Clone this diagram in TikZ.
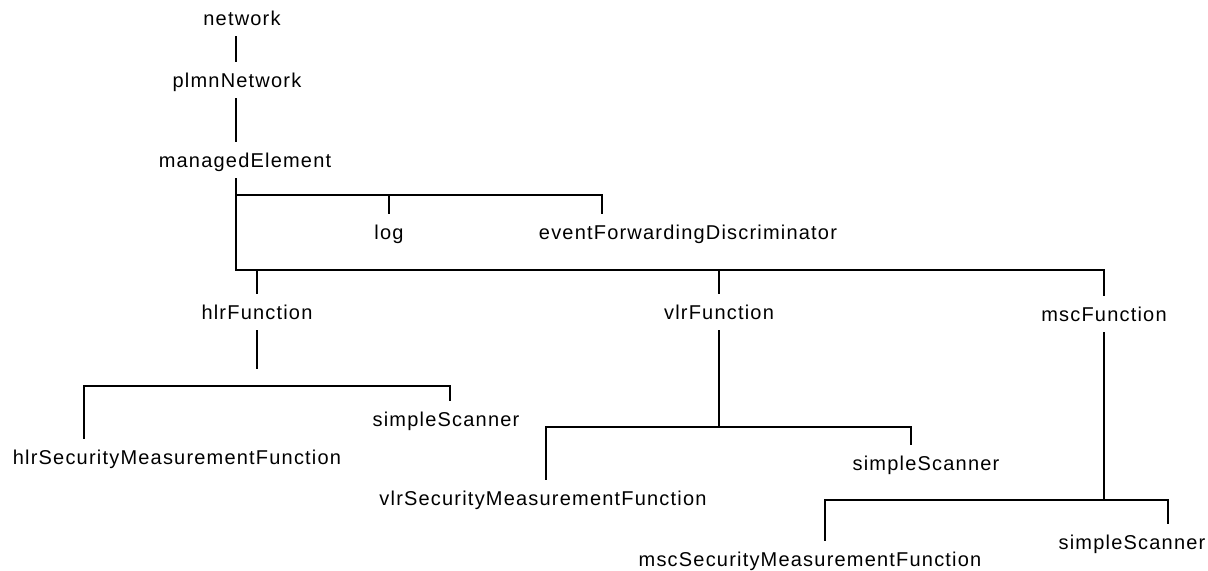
\documentclass[tikz,border=0pt]{standalone}
\usepackage{fontspec}
\newfontfamily\objfont[LetterSpace=6]{Liberation Sans}
\tikzset{
  obj/.style={font=\objfont\fontsize{10}{12}\selectfont, inner sep=0pt,
    text height=7.2pt, text depth=0pt, minimum height=18pt},
  link/.style={line width=1.45pt}
}
\begin{document}
\begin{tikzpicture}[x=0.5pt,y=-0.5pt]
\useasboundingbox (0,0) rectangle (1208,571);
% objects
\node[obj] (net) at (242,18) {network};
\node[obj] (plmn) at (237,80) {plmnNetwork};
\node[obj] (me) at (245,160) {managedElement};
\node[obj] (log) at (389,232) {log};
\node[obj] (efd) at (688,232) {eventForwardingDiscriminator};
\node[obj] (hlr) at (257,312) {hlrFunction};
\node[obj] (vlr) at (719,312) {vlrFunction};
\node[obj] (msc) at (1104,314) {mscFunction};
\node[obj] (hlrSmf) at (177,457) {hlrSecurityMeasurementFunction};
\node[obj] (hlrScan) at (446,419) {simpleScanner};
\node[obj] (vlrSmf) at (543,498) {vlrSecurityMeasurementFunction};
\node[obj] (vlrScan) at (926,463) {simpleScanner};
\node[obj] (mscSmf) at (810,559) {mscSecurityMeasurementFunction};
\node[obj] (mscScan) at (1132,542) {simpleScanner};
% bus points
\coordinate (spine) at (236,0);
\coordinate (meBus) at (236,195);
\coordinate (efdT) at (602,195);
\coordinate (fnBus) at (236,270);
\coordinate (hlrStub) at (257,369);
\coordinate (hlrBus) at (84,386);
\coordinate (hlrEnd) at (450,386);
\coordinate (vlrBus) at (546,427);
\coordinate (vlrEnd) at (911,427);
\coordinate (mscBus) at (825,500);
\coordinate (mscEnd) at (1168,500);
% containment
\draw[link] (net.south -| spine) -- (plmn.north -| spine);
\draw[link] (plmn.south -| spine) -- (me.north -| spine);
\draw[link] (me.south -| spine) -- (fnBus) -- (fnBus -| msc) -- (msc.north);
\draw[link] (meBus) -- (efdT) -- (efd.north -| efdT);
\draw[link] (meBus -| log) -- (log.north);
\draw[link] (fnBus -| hlr) -- (hlr.north);
\draw[link] (fnBus -| vlr) -- (vlr.north);
\draw[link] (hlr.south) -- (hlrStub);
\draw[link] (hlrSmf.north -| hlrBus) -- (hlrBus) -- (hlrEnd) -- (hlrScan.north -| hlrEnd);
\draw[link] (vlr.south) -- (vlrBus -| vlr);
\draw[link] (vlrSmf.north -| vlrBus) -- (vlrBus) -- (vlrEnd) -- (vlrScan.north -| vlrEnd);
\draw[link] (msc.south) -- (mscBus -| msc);
\draw[link] (mscSmf.north -| mscBus) -- (mscBus) -- (mscEnd) -- (mscScan.north -| mscEnd);
\end{tikzpicture}
\end{document}
